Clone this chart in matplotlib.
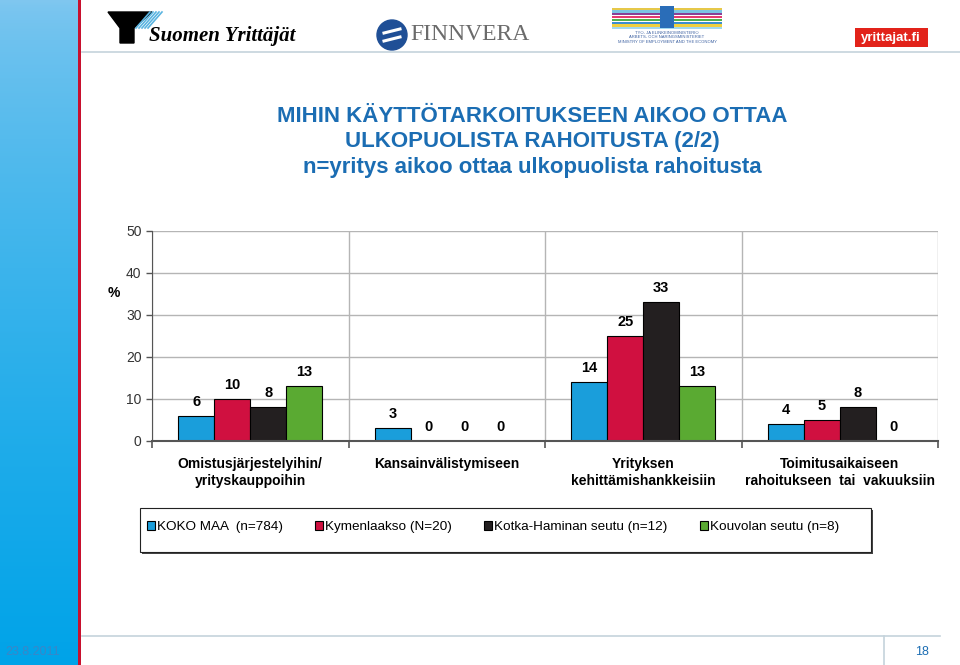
"""
Slide: intended use of external financing (2/2), bar chart per region.
"""

import numpy as np
import matplotlib.pyplot as plt
from matplotlib.patches import Rectangle, Ellipse, Polygon

plt.rcParams['font.family'] = ['Liberation Sans', 'DejaVu Sans']

# Data
categories = [
    'Omistusjärjestelyihin/\nyrityskauppoihin',
    'Kansainvälistymiseen',
    'Yrityksen\nkehittämishankkeisiin',
    'Toimitusaikaiseen\nrahoitukseen  tai  vakuuksiin',
]
series = [
    'KOKO MAA  (n=784)',
    'Kymenlaakso (N=20)',
    'Kotka-Haminan seutu (n=12)',
    'Kouvolan seutu (n=8)',
]
koko_maa = [6, 3, 14, 4]
kymenlaakso = [10, 0, 25, 5]
kotka = [8, 0, 33, 8]
kouvola = [13, 0, 13, 0]
yticks = [0, 10, 20, 30, 40, 50]

values = [koko_maa, kymenlaakso, kotka, kouvola]
colors = ['#1a9edb', '#d01040', '#231f20', '#5aaa32']

title_blue = '#1b6db3'
W, H = 960, 665


def fx(x):
    return x / W


def fy(y):
    return 1 - y / H


fig = plt.figure(figsize=(9.6, 6.65), dpi=100)
fig.patch.set_facecolor('white')

# Left blue strip with gradient
strip = fig.add_axes([0, 0, fx(78), 1])
grad = np.linspace(0, 1, 256).reshape(-1, 1)
top = np.array([0.50, 0.78, 0.94])
bot = np.array([0.00, 0.64, 0.91])
img = top + (bot - top) * grad[:, :, None] ** 0.7
strip.imshow(img, aspect='auto', extent=[0, 1, 0, 1], origin='upper')
strip.set_axis_off()
fig.add_artist(Rectangle((fx(78), 0), fx(3), 1, transform=fig.transFigure,
                         color='#c8102e', lw=0))

# Header / footer lines
fig.add_artist(plt.Line2D([fx(82), 1], [fy(52), fy(52)], color='#c5d3dc', lw=1.2))
fig.add_artist(plt.Line2D([fx(82), fx(940)], [fy(636), fy(636)], color='#c5d3dc', lw=1.2))
fig.add_artist(plt.Line2D([fx(884), fx(884)], [fy(636), 0], color='#c5d3dc', lw=1.2))
fig.text(fx(5), fy(652), '23.8.2011', color='#3a86c8', fontsize=9, va='center')
fig.text(fx(922), fy(652), '18', color='#1b6db3', fontsize=9, va='center', ha='center')

# Logos (approximations)
fig.add_artist(Polygon([[fx(108), fy(12)], [fx(152), fy(12)], [fx(134), fy(28)],
                        [fx(134), fy(43)], [fx(120), fy(43)], [fx(120), fy(28)]],
                       closed=True, transform=fig.transFigure, color='black'))
for k in range(5):
    fig.add_artist(plt.Line2D([fx(136 + k * 3), fx(150 + k * 3)], [fy(28), fy(12)],
                              color='#5ab4e0', lw=1.2))
fig.text(fx(149), fy(36), 'Suomen Yrittäjät', family='Liberation Serif',
         style='italic', weight='bold', fontsize=15, va='center')

fig.add_artist(Ellipse((fx(392), fy(35)), 30 / W, 30 / H, transform=fig.transFigure,
                       color='#1f4f96'))
for dy in (-4, 4):
    fig.add_artist(plt.Line2D([fx(384), fx(400)], [fy(35 + dy + 2), fy(35 + dy - 2)],
                              color='white', lw=2.2))
fig.text(fx(410), fy(35), 'FINNVERA', family='Liberation Serif', color='#6b6b6b',
         fontsize=17, va='center')

stripe_colors = ['#e6c84a', '#7cc4e4', '#8a3f96', '#e63c6e', '#52b04a',
                 '#3a8fd0', '#f0d040', '#a0d8f0']
for k, c in enumerate(stripe_colors):
    fig.add_artist(Rectangle((fx(612), fy(7 + k * 2.8 + 2.8)), fx(110), 2.2 / H,
                             transform=fig.transFigure, color=c, lw=0))
fig.add_artist(Rectangle((fx(660), fy(28)), fx(14), 22 / H,
                         transform=fig.transFigure, color='#2a6db8', lw=0))
for k, t in enumerate(['TYÖ- JA ELINKEINOMINISTERIÖ',
                       'ARBETS- OCH NÄRINGSMINISTERIET',
                       'MINISTRY OF EMPLOYMENT AND THE ECONOMY']):
    fig.text(fx(667), fy(33 + k * 4.5), t, fontsize=3, color='#3a5fa0',
             ha='center', va='center')

fig.add_artist(Rectangle((fx(855), fy(47)), fx(73), 19 / H,
                         transform=fig.transFigure, color='#e2231a', lw=0))
fig.text(fx(891), fy(37.5), 'yrittajat.fi', color='white', weight='bold',
         fontsize=9.5, ha='center', va='center')

# Title
fig.text(fx(532), fy(142),
         'MIHIN KÄYTTÖTARKOITUKSEEN AIKOO OTTAA\n'
         'ULKOPUOLISTA RAHOITUSTA (2/2)\n'
         'n=yritys aikoo ottaa ulkopuolista rahoitusta',
         ha='center', va='center', color=title_blue, fontsize=16,
         weight='bold', linespacing=1.31)

# Chart
ax = fig.add_axes([fx(152), fy(441), fx(938 - 152), (441 - 231) / H])
x = np.arange(len(categories))
w = 36 / 196.5
for i, (vals, col) in enumerate(zip(values, colors)):
    pos = x + (i - 1.5) * w
    ax.bar(pos, vals, width=w, color=col, edgecolor='black', lw=0.8,
           zorder=3, label=series[i])
    for xp, v in zip(pos, vals):
        ax.annotate(f'{v}', (xp, v), xytext=(0, 5), textcoords='offset points',
                    ha='center', va='bottom', fontsize=10.5, weight='bold')

ax.set_xlim(-0.5, 3.5)
ax.set_ylim(0, 50)
ax.set_yticks(yticks)
ax.set_yticklabels([str(t) for t in yticks], color='#333333', fontsize=10)
ax.set_xticks(x)
ax.set_xticklabels(categories, fontsize=10, weight='bold', linespacing=1.25)
ax.tick_params(axis='x', which='major', length=0, pad=11.5)
ax.set_xticks(np.arange(-0.5, 4, 1), minor=True)
ax.tick_params(axis='x', which='minor', length=5, color='#555555', width=1.2)
ax.tick_params(axis='y', length=4, color='#555555', width=1)
ax.grid(axis='y', color='#b5b5b5', lw=1, zorder=0)
ax.grid(axis='x', which='minor', color='#b5b5b5', lw=1, zorder=0)
for s in ['top', 'right']:
    ax.spines[s].set_visible(False)
ax.spines['left'].set_color('#555555')
ax.spines['bottom'].set_color('#555555')
ax.spines['bottom'].set_linewidth(1.5)
ax.spines['bottom'].set_zorder(4)
ax.set_ylabel('%', rotation=0, fontsize=10, weight='bold', labelpad=14)
ax.yaxis.set_label_coords(-0.048, 0.67)

# Legend box
fig.add_artist(Rectangle((fx(142), fy(554)), fx(871 - 140), 44 / H,
                         transform=fig.transFigure, color='#444444', lw=0))
fig.add_artist(Rectangle((fx(140), fy(552)), fx(871 - 140), 44 / H,
                         transform=fig.transFigure, facecolor='white',
                         edgecolor='#222222', lw=0.8))
handles, labels = ax.get_legend_handles_labels()
fig.legend(handles, labels, loc='center', bbox_to_anchor=(fx(493), fy(527)),
           ncol=4, frameon=False, fontsize=9.7, handlelength=0.6,
           handleheight=0.6, handletextpad=0.15, columnspacing=2.4)

plt.savefig('out.png', dpi=100)
